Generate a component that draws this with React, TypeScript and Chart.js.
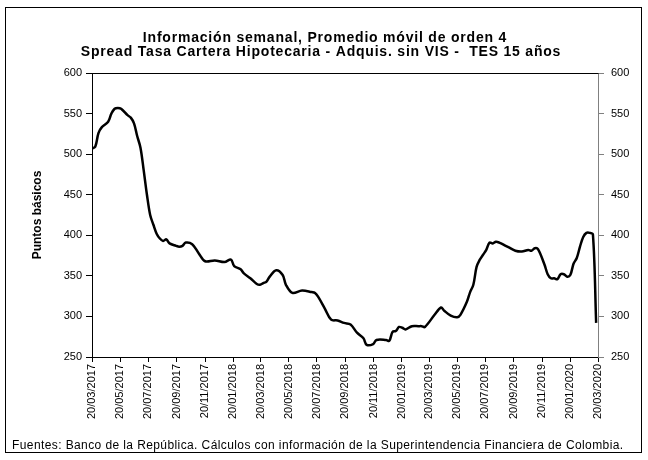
import React, { useEffect, useRef } from "react";
import { Chart, registerables } from "chart.js";

Chart.register(...registerables);

const FONT = "'Liberation Sans', Arial, sans-serif";

const TITLE_LINES = [
  "Información semanal, Promedio móvil de orden 4",
  "Spread Tasa Cartera Hipotecaria - Adquis. sin VIS -  TES 15 años",
];
const Y_TITLE = "Puntos básicos";
const SOURCE =
  "Fuentes: Banco de la República. Cálculos con información de la Superintendencia Financiera de Colombia.";

const START_DATE = "20/03/2017";
const X_TICK_LABELS = [
  "20/03/2017", "20/05/2017", "20/07/2017", "20/09/2017", "20/11/2017",
  "20/01/2018", "20/03/2018", "20/05/2018", "20/07/2018", "20/09/2018",
  "20/11/2018", "20/01/2019", "20/03/2019", "20/05/2019", "20/07/2019",
  "20/09/2019", "20/11/2019", "20/01/2020", "20/03/2020",
];

const Y_MIN = 250;
const Y_MAX = 600;
const Y_STEP = 50;

// weeks elapsed since 20/03/2017
const WEEKS = [
  0, 1, 2, 3, 5, 6, 7, 8, 9, 11, 12, 13, 14, 15, 16, 17, 18, 19, 20, 21, 22, 23, 24,
  26, 27, 28, 29, 31, 33, 35, 38, 41, 43, 44, 46, 47, 49, 51, 52, 53, 54, 55, 57,
  59, 60, 62, 65, 68, 69, 70, 72, 74, 76, 78, 80, 82, 84, 85, 87, 88, 91, 92, 93,
  94, 95, 96, 97, 99, 101, 102, 103, 106, 108, 109, 111, 113, 114, 116, 117, 118,
  119, 120, 121, 122, 123, 124, 125, 126, 128, 129, 131, 133, 135, 136, 137, 138,
  140, 141, 142, 143, 144, 145, 146, 147, 148, 149, 150, 151, 152, 153, 154, 155, 156,
];
// spread, basis points
const SPREAD = [
  507, 509, 526, 533, 540, 550, 556, 557, 556, 548, 545, 538, 522, 508, 480, 450, 425, 413, 402, 396, 393, 395, 390,
  387, 386, 387, 391, 389, 378, 368, 369, 367, 370, 362, 358, 353, 347, 340, 339, 341, 343, 349, 357,
  351, 339, 329, 332, 330, 329, 324, 310, 296, 295, 292, 290, 280, 273, 265, 266, 271, 271, 270, 281,
  282, 287, 286, 284, 288, 288, 288, 287, 302, 311, 307, 301, 299, 302, 318, 330, 339,
  361, 370, 376, 382, 391, 390, 392, 391, 387, 385, 381, 380, 382, 381, 384, 383,
  364, 352, 347, 347, 346, 352, 352, 349, 351, 365, 372, 386, 398, 403, 403, 401, 292,
];

function dayOffset(label: string): number {
  const [d, m, y] = label.split("/").map(Number);
  const [d0, m0, y0] = START_DATE.split("/").map(Number);
  return Math.round((Date.UTC(y, m - 1, d) - Date.UTC(y0, m0 - 1, d0)) / 86400000);
}

const TICK_DAYS = X_TICK_LABELS.map(dayOffset);

const decorPlugin = {
  id: "decor",
  afterDraw(chart: any) {
    const { ctx, chartArea } = chart;
    ctx.save();
    // plot area top border
    ctx.strokeStyle = "#000";
    ctx.lineWidth = 1;
    ctx.beginPath();
    ctx.moveTo(Math.round(chartArea.left) + 0.5, Math.round(chartArea.top) + 0.5);
    ctx.lineTo(Math.round(chartArea.right) + 0.5, Math.round(chartArea.top) + 0.5);
    ctx.stroke();
    // outer frame
    ctx.strokeStyle = "#000";
    ctx.strokeRect(5.5, 7.5, 636, 445);
    // titles
    ctx.fillStyle = "#000";
    ctx.textAlign = "center";
    ctx.textBaseline = "middle";
    ctx.font = `bold 14px ${FONT}`;
    ctx.letterSpacing = "0.8px";
    ctx.fillText(TITLE_LINES[0], 325, 38);
    ctx.fillText(TITLE_LINES[1], 321, 52);
    // y title
    ctx.save();
    ctx.translate(38, (chartArea.top + chartArea.bottom) / 2);
    ctx.rotate(-Math.PI / 2);
    ctx.font = `bold 12px ${FONT}`;
    ctx.letterSpacing = "0px";
    ctx.fillText(Y_TITLE, 0, 0);
    ctx.restore();
    // source
    ctx.textAlign = "left";
    ctx.font = `12px ${FONT}`;
    ctx.letterSpacing = "0.4px";
    ctx.fillText(SOURCE, 12, 446);
    ctx.restore();
  },
};

export default function App() {
  const ref = useRef<HTMLCanvasElement>(null);

  useEffect(() => {
    if (!ref.current) return;
    const chart = new Chart(ref.current, {
      type: "line",
      data: {
        datasets: [
          {
            data: WEEKS.map((w, i) => ({ x: w * 7, y: SPREAD[i] })),
            borderColor: "#000",
            borderWidth: 2.5,
            pointRadius: 0,
            tension: 0.35,
            fill: false,
          },
        ],
      },
      options: {
        responsive: false,
        animation: false,
        layout: { padding: { left: 0, top: 73, right: 0, bottom: 40 } },
        plugins: { legend: { display: false }, tooltip: { enabled: false }, title: { display: false } },
        scales: {
          x: {
            type: "linear",
            min: TICK_DAYS[0],
            max: TICK_DAYS[TICK_DAYS.length - 1],
            afterBuildTicks: (s: any) => {
              s.ticks = TICK_DAYS.map((v) => ({ value: v }));
            },
            afterFit: (s: any) => {
              s.height = 63;
            },
            ticks: {
              autoSkip: false,
              minRotation: 90,
              maxRotation: 90,
              color: "#000",
              padding: 2,
              font: { family: FONT, size: 11 },
              callback: (v: any) => {
                const i = TICK_DAYS.indexOf(Number(v));
                return i >= 0 ? X_TICK_LABELS[i] : "";
              },
            },
            grid: { drawOnChartArea: false, tickLength: 5, color: "#000" },
            border: { color: "#000" },
          },
          y: {
            position: "left",
            min: Y_MIN,
            max: Y_MAX,
            afterFit: (s: any) => {
              s.width = 92;
            },
            ticks: { stepSize: Y_STEP, color: "#000", padding: 4, font: { family: FONT, size: 11 } },
            grid: { drawOnChartArea: false, tickLength: 6, color: "#000" },
            border: { color: "#000" },
          },
          y2: {
            position: "right",
            min: Y_MIN,
            max: Y_MAX,
            afterFit: (s: any) => {
              s.width = 50;
            },
            ticks: { stepSize: Y_STEP, color: "#000", padding: 7, font: { family: FONT, size: 11 } },
            grid: { drawOnChartArea: false, tickLength: 6, color: "#808080" },
            border: { color: "#808080" },
          },
        },
      },
      plugins: [decorPlugin],
    } as any);
    return () => chart.destroy();
  }, []);

  return (
    <canvas
      ref={ref}
      width={648}
      height={460}
      style={{ position: "fixed", left: 0, top: 0, width: 648, height: 460, background: "#fff" }}
    />
  );
}
